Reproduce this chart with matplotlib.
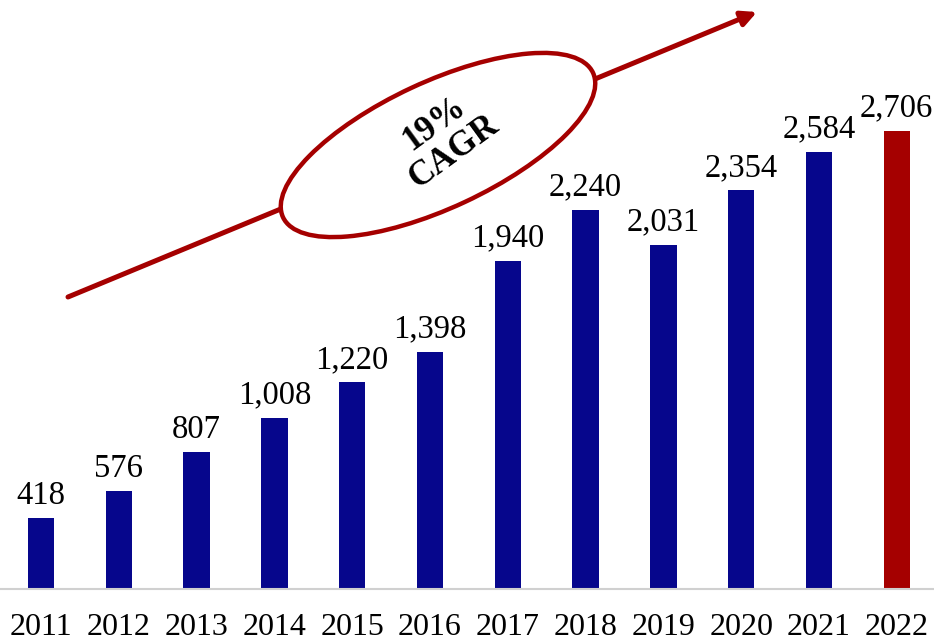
import matplotlib.pyplot as plt
from matplotlib.patches import Ellipse

years = ['2011', '2012', '2013', '2014', '2015', '2016',
         '2017', '2018', '2019', '2020', '2021', '2022']
values = [418, 576, 807, 1008, 1220, 1398, 1940, 2240, 2031, 2354, 2584, 2706]
cagr_text = '19%\nCAGR'

navy = '#06068C'
dark_red = '#A50000'
colors = [navy] * (len(values) - 1) + [dark_red]

plt.rcParams['font.family'] = ['Liberation Serif', 'DejaVu Serif']

fig = plt.figure(figsize=(9.34, 6.43), dpi=100)
ax = fig.add_axes([0, 0.084, 1, 0.916])

x = list(range(len(years)))
bars = ax.bar(x, values, width=0.34, color=colors)
for b, v in zip(bars, values):
    ax.text(b.get_x() + b.get_width() / 2, v + 45, f'{v:,}',
            ha='center', va='bottom', fontsize=23.5)

ax.set_xlim(-0.527, 11.478)
ax.set_ylim(0, 3479)
ax.set_xticks(x)
ax.set_xticklabels(years, fontsize=23)
ax.tick_params(axis='x', length=0, pad=17)
ax.set_yticks([])
for s in ['top', 'right', 'left']:
    ax.spines[s].set_visible(False)
ax.spines['bottom'].set_color('#d0d0d0')
ax.spines['bottom'].set_linewidth(1.5)

# overlay in pixel units for the growth arrow and ellipse
ov = fig.add_axes([0, 0, 1, 1])
ov.set_xlim(0, 934)
ov.set_ylim(643, 0)
ov.axis('off')
ov.patch.set_alpha(0)
ov.annotate('', xy=(757, 12), xytext=(68, 297),
            arrowprops=dict(arrowstyle='-|>,head_length=0.9,head_width=0.45',
                            color=dark_red, lw=3.6, shrinkA=0, shrinkB=0))
ov.add_patch(Ellipse((438, 145), 342, 126, angle=-25,
                     facecolor='white', edgecolor=dark_red, lw=3.2, zorder=3))
ov.text(444, 138, cagr_text, rotation=36, ha='center', va='center',
        fontsize=25, fontweight='bold', linespacing=1.05, zorder=4)

fig.savefig('out.png', dpi=100)
